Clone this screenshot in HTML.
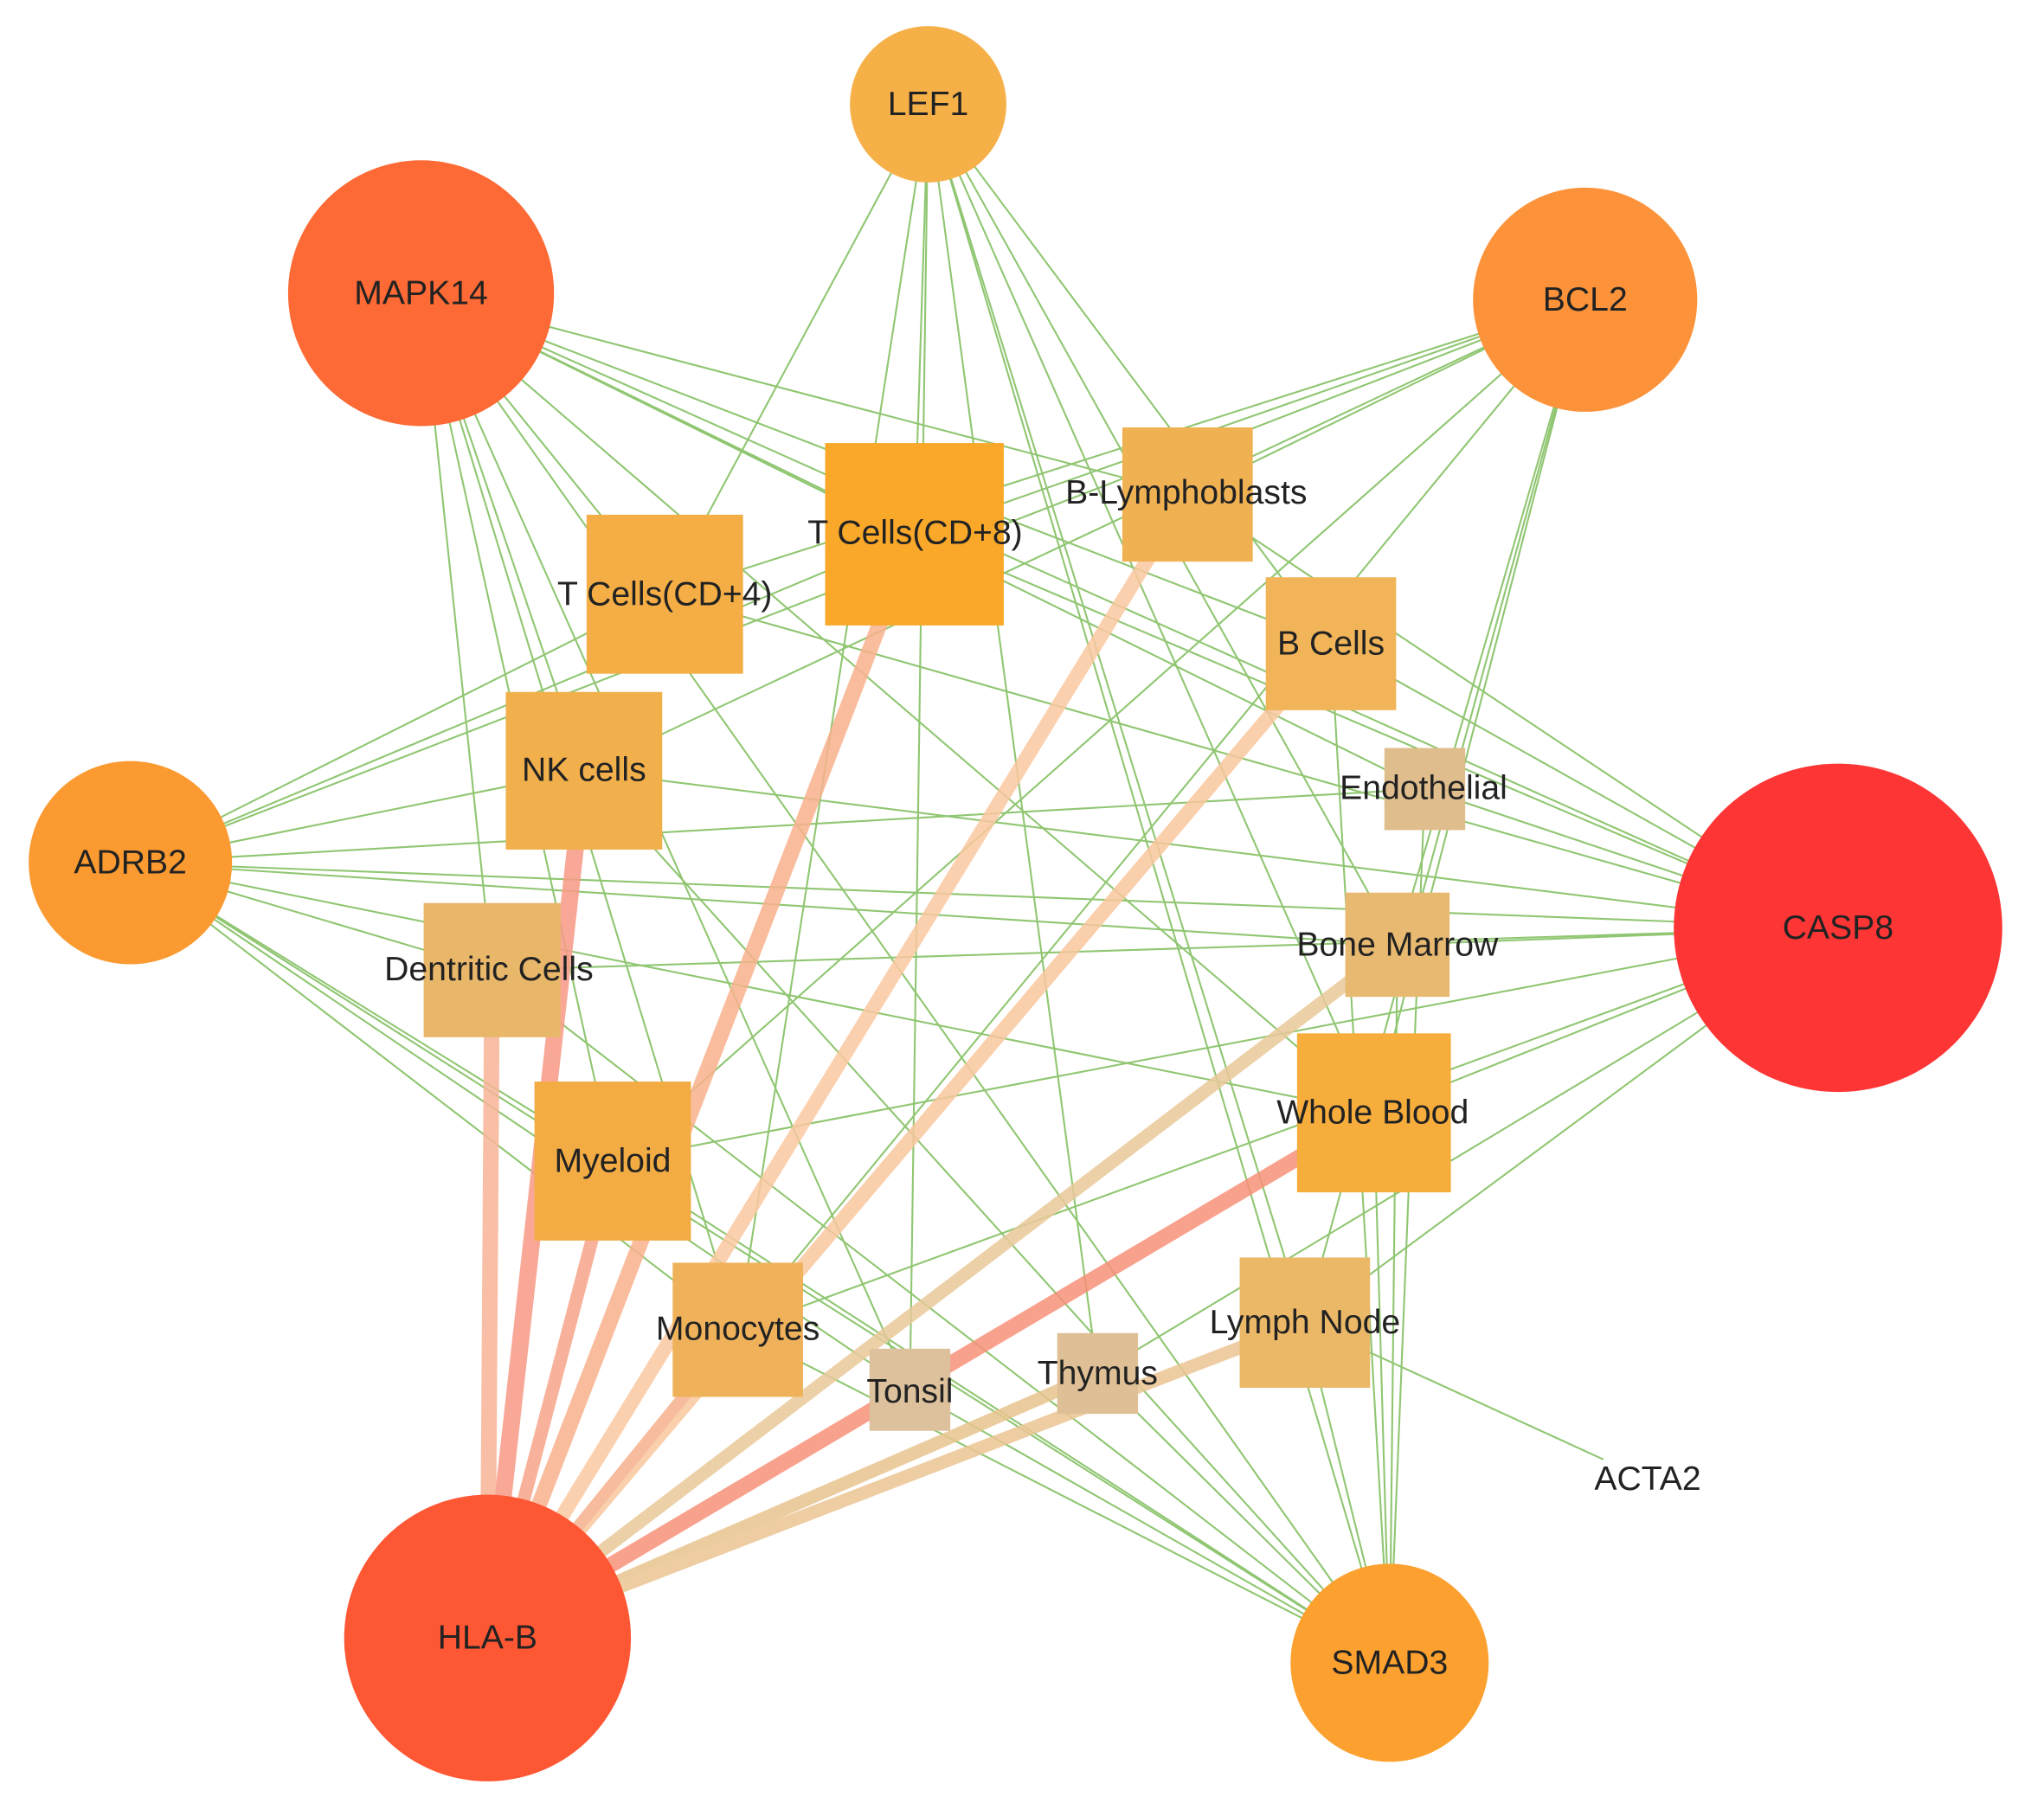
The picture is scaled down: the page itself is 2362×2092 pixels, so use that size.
<!DOCTYPE html>
<html><head><meta charset="utf-8"><style>html,body{margin:0;padding:0;background:#fff}svg{display:block}</style></head>
<body>
<svg id="s" width="2362" height="2092" viewBox="0 0 1568 1389" preserveAspectRatio="none" xmlns="http://www.w3.org/2000/svg">
<rect width="1568" height="1389" fill="#fff"/>
<g id="green" stroke="#7dbd5a" stroke-width="1.4" opacity="0.85"></g>
<g id="thick" stroke-linecap="butt" opacity="0.85"></g>
<g id="nodes"></g>
<g id="labels" font-family="Liberation Sans, Arial, sans-serif" font-size="26" fill="#222" text-anchor="middle" dominant-baseline="central"></g>
</svg>
<script>
var C={LEF1:[712,80,60,'#f5b048'],MAPK14:[323,225,102,'#fd6a35'],BCL2:[1216,230,86,'#fc933a'],ADRB2:[100,662,78,'#fb9a30'],CASP8:[1410,712,126,'#fe3535'],HLAB:[374,1257,110,'#fe5733'],SMAD3:[1066,1276,76,'#fca12f']};
var S={T4:[450,395,120,122,'#f4ae45','T Cells(CD+4)',510,456],T8:[633,340,137,140,'#f9a82a','T Cells(CD+8)',702,409],BL:[861,328,100,103,'#f0b152','B-Lymphoblasts',910,378],BC:[971,443,100,102,'#f1b458','B Cells',1021,494],EN:[1062,574,62,63,'#dfbd8c','Endothelial',1092,605],NK:[388,531,120,121,'#f2b04c','NK cells',448,591],BM:[1032,685,80,80,'#e8b970','Bone Marrow',1072,725],DC:[325,693,105,103,'#e9b76a','Dentritic Cells',375,744],WB:[995,793,118,122,'#f6ad3b','Whole Blood',1053,854],MY:[410,830,120,122,'#f2ac43','Myeloid',470,891],MO:[516,969,100,103,'#efb25a','Monocytes',566,1020],LN:[951,965,100,100,'#ebb868','Lymph Node',1001,1015],TO:[667,1035,62,63,'#dcc19c','Tonsil',698,1068],TH:[811,1023,62,62,'#dfc096','Thymus',842,1054]};
function P(k){if(C[k])return[C[k][0],C[k][1]];if(k=='ACTA2')return[1230,1120];var s=S[k];return[s[0]+s[2]/2,s[1]+s[3]/2];}
var NS='http://www.w3.org/2000/svg';
function el(t,a,p){var e=document.createElementNS(NS,t);for(var k in a)e.setAttribute(k,a[k]);document.getElementById(p).appendChild(e);return e;}
var G={LEF1:['T4','T8','TO','TH','LN','WB','BM','BC','MO','SMAD3'],
MAPK14:['T8','BL','BC','EN','CASP8','DC','MY','MO','TO','NK','WB','SMAD3','T4'],
BCL2:['T8','T4','NK','BL','WB','LN','BM','MO','MY','ADRB2'],
ADRB2:['T4','NK','T8','EN','BM','WB','DC','MY','MO','TO','SMAD3','CASP8'],
CASP8:['BC','BL','T8','NK','DC','BM','WB','MY','LN','MO','TH','EN','T4'],
SMAD3:['LN','WB','BM','EN','BC','TH','TO','MO','MY','NK','DC'],
LN:['ACTA2']};
for(var a in G)G[a].forEach(function(b){var p=P(a),q=P(b);el('line',{x1:p[0],y1:p[1],x2:q[0],y2:q[1]},'green');});
var T=[['DC','#f7b597',12],['NK','#f89a86',13],['T8','#f9b28e',12],['BL','#fbc8a0',11],['BC','#f9c79e',11],['MY','#f7a48a',10],['BM','#e9c99a',10],['WB','#f7917a',12],['TH','#e8c48e',10],['LN','#ecc594',10],['MO','#f6b08e',9]];
T.forEach(function(t){var q=P(t[0]);el('line',{x1:374,y1:1257,x2:q[0],y2:q[1],stroke:t[1],'stroke-width':t[2]},'thick');});
for(var k in S){var s=S[k];el('rect',{x:s[0],y:s[1],width:s[2],height:s[3],fill:s[4]},'nodes');var t=el('text',{x:s[6],y:s[7]},'labels');t.textContent=s[5];}
var N={LEF1:'LEF1',MAPK14:'MAPK14',BCL2:'BCL2',ADRB2:'ADRB2',CASP8:'CASP8',HLAB:'HLA-B',SMAD3:'SMAD3'};
for(var k in C){var c=C[k];el('circle',{cx:c[0],cy:c[1],r:c[2],fill:c[3]},'nodes');var t=el('text',{x:c[0],y:c[1]},'labels');t.textContent=N[k];}
var t=el('text',{x:1264,y:1135},'labels');t.textContent='ACTA2';
</script>
</body></html>
